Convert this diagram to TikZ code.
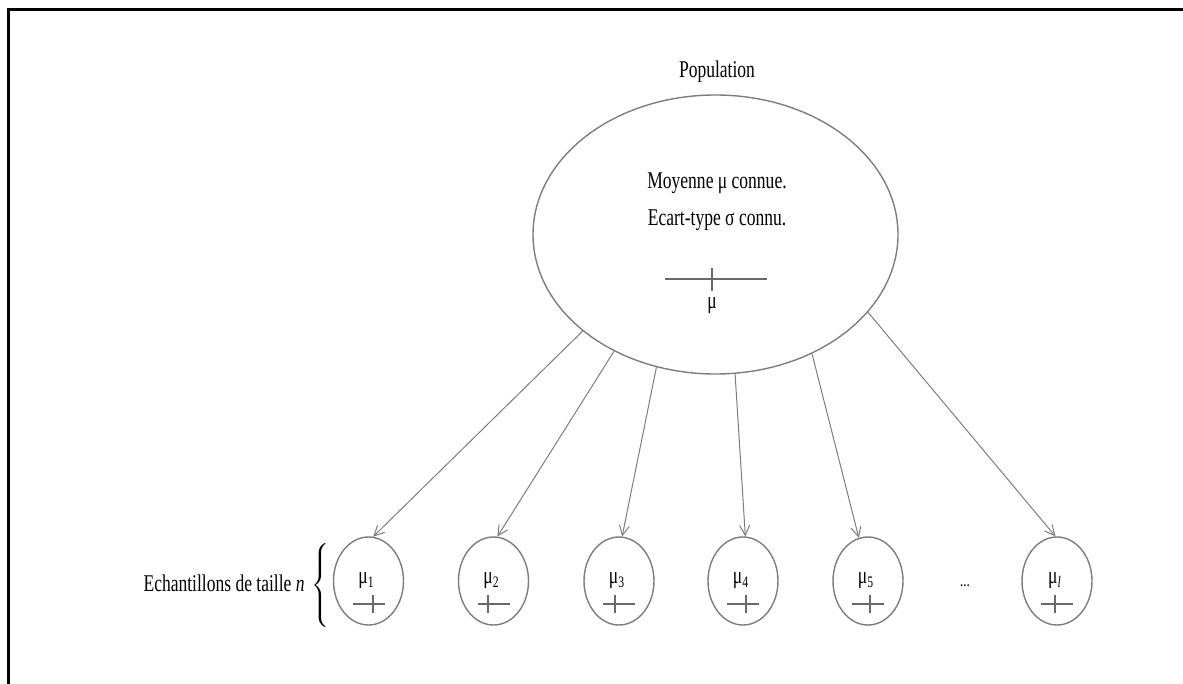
\documentclass[tikz,border=0pt]{standalone}
\usepackage{fontspec}
\setmainfont{Liberation Serif}[FakeStretch=0.73]
\usetikzlibrary{shapes.geometric,arrows.meta}
\definecolor{lg}{RGB}{125,125,125}
\definecolor{cg}{RGB}{105,105,105}
\begin{document}
\begin{tikzpicture}[x=0.5pt,y=-0.5pt,
  txt/.style={inner sep=0pt, font=\fontsize{12}{14}\selectfont},
  bigell/.style={ellipse, draw=lg, line width=0.7pt, minimum width=182.5pt, minimum height=139.5pt, inner sep=0pt},
  smell/.style={ellipse, draw=lg, line width=0.7pt, minimum width=35pt, minimum height=44pt, inner sep=0pt},
  arr/.style={draw=lg, line width=0.5pt, -{Straight Barb[length=5pt,width=5pt]}},
  crs/.style={draw=cg, line width=1pt},
  frame/.style={draw=black, line width=1.5pt}]
\useasboundingbox (0,0) rectangle (1183,684);
\coordinate (fa) at (8.5,684);
\coordinate (fb) at (8.5,9.5);
\coordinate (fc) at (1183,9.5);
\draw[frame] (fa) -- (fb) -- (fc);

\node[bigell] (pop) at (715.5,234.5) {};
\node[txt] (poplab) at (717,72) {Population};
\node[txt] (info1) at (717,183) {Moyenne μ connue.};
\node[txt] (info2) at (717,220) {Ecart-type σ connu.};
\draw[crs] (665,279) -- (767,279);
\draw[crs] (712,268) -- (712,291);
\node[txt] (mu) at (712,306) {μ};

\foreach \i/\x/\tx/\lab in {1/368.5/373/1, 2/493.5/488/2, 3/619/615/3, 4/743/746/4, 5/868/870/5, 6/1057/1055/{\itshape l}} {
  \node[smell] (s\i) at (\x,581) {};
  \node[txt] (m\i) at (\x-2,581) {μ\textsubscript{\lab}};
  \draw[crs] (\x-16,604) -- (\x+16,604);
  \draw[crs] (\tx,595) -- (\tx,613);
}
\node[txt, font=\fontsize{9}{10}\selectfont] (dots) at (965,586) {...};

\node[inner sep=0pt, anchor=west] (brace) at (311,586) {$\left\{\vrule height 19pt depth 19pt width 0pt\right.$};
\node[txt, anchor=east] (lab) at (305,583) {Echantillons de taille \textit{n}};

\draw[arr] (pop.216) -- (s1.84);
\draw[arr] (pop.229) -- (s2.85);
\draw[arr] (pop.246) -- (s3.86);
\draw[arr] (pop.278) -- (s4.87);
\draw[arr] (pop.309) -- (s5.102);
\draw[arr] (pop.333) -- (s6.92);
\end{tikzpicture}
\end{document}
